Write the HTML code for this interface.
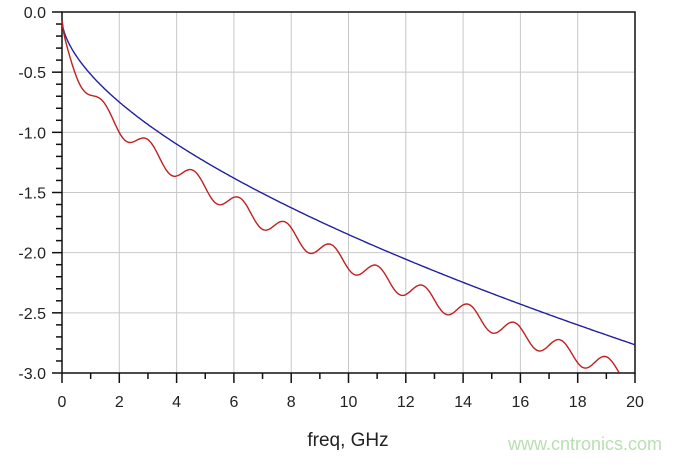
<!DOCTYPE html>
<html><head><meta charset="utf-8"><style>
body{margin:0;background:#fff;width:693px;height:460px;overflow:hidden}
text{font-family:"Liberation Sans",sans-serif;fill:#222}
</style></head><body>
<svg id="s" width="693" height="460" xmlns="http://www.w3.org/2000/svg">
<g id="grid" stroke="#c8c8c8" stroke-width="1"></g>
<g id="ax" stroke="#111" stroke-width="1.5" fill="none"></g>
<g id="lab" font-size="16"></g>
<path id="blue" fill="none" stroke="#2020a0" stroke-width="1.4"/>
<path id="red" fill="none" stroke="#c02020" stroke-width="1.4"/>
<text x="348" y="446" font-size="19" text-anchor="middle">freq, GHz</text>
<text x="508" y="450" font-size="18" style="fill:#b8e0b0">www.cntronics.com</text>
</svg>
<script>
var L=62,R=635,T=12,B=373,ns="http://www.w3.org/2000/svg";
function X(f){return L+(R-L)*f/20}function Y(v){return T+(B-T)*(-v)/3}
function el(p,t,a,tx){var e=document.createElementNS(ns,t);for(var k in a)e.setAttribute(k,a[k]);if(tx)e.textContent=tx;document.getElementById(p).appendChild(e);}
for(var i=1;i<10;i++)el("grid","line",{x1:X(i*2),x2:X(i*2),y1:T,y2:B});
for(var i=1;i<6;i++)el("grid","line",{x1:L,x2:R,y1:Y(-i*0.5),y2:Y(-i*0.5)});
el("ax","rect",{x:L,y:T,width:R-L,height:B-T});
for(var i=0;i<=30;i++){var y=Y(-i*0.1);el("ax","line",{x1:L-(i%5?6:10),x2:L,y1:y,y2:y});}
for(var i=0;i<=20;i++){var x=X(i);el("ax","line",{x1:x,x2:x,y1:B,y2:B+(i%2?6:10)});}
for(var i=0;i<=6;i++)el("lab","text",{x:L-16,y:Y(-i*0.5)+6,"text-anchor":"end"},(-i*0.5).toFixed(1).replace("-0.0","0.0"));
for(var i=0;i<=10;i++)el("lab","text",{x:X(i*2),y:B+34,"text-anchor":"middle"},String(i*2));
function bl(f){return -0.07-0.448*Math.pow(f,0.599)}
var pb="",pr="";
for(var f=0;f<=20.001;f+=0.04){
 var b=bl(f);pb+=(f?"L":"M")+X(f).toFixed(1)+" "+Y(b).toFixed(1);
 var r=b-(0.115+0.0035*f)*(1-Math.exp(-f/0.4))-0.08*(1-Math.cos(2*Math.PI*(f-1.4)/1.6))*(1-Math.exp(-f/0.6));
 if(r>=-3.0)pr+=(pr?"L":"M")+X(f).toFixed(1)+" "+Y(r).toFixed(1);
}
document.getElementById("blue").setAttribute("d",pb);
document.getElementById("red").setAttribute("d",pr);
</script>
</body></html>
